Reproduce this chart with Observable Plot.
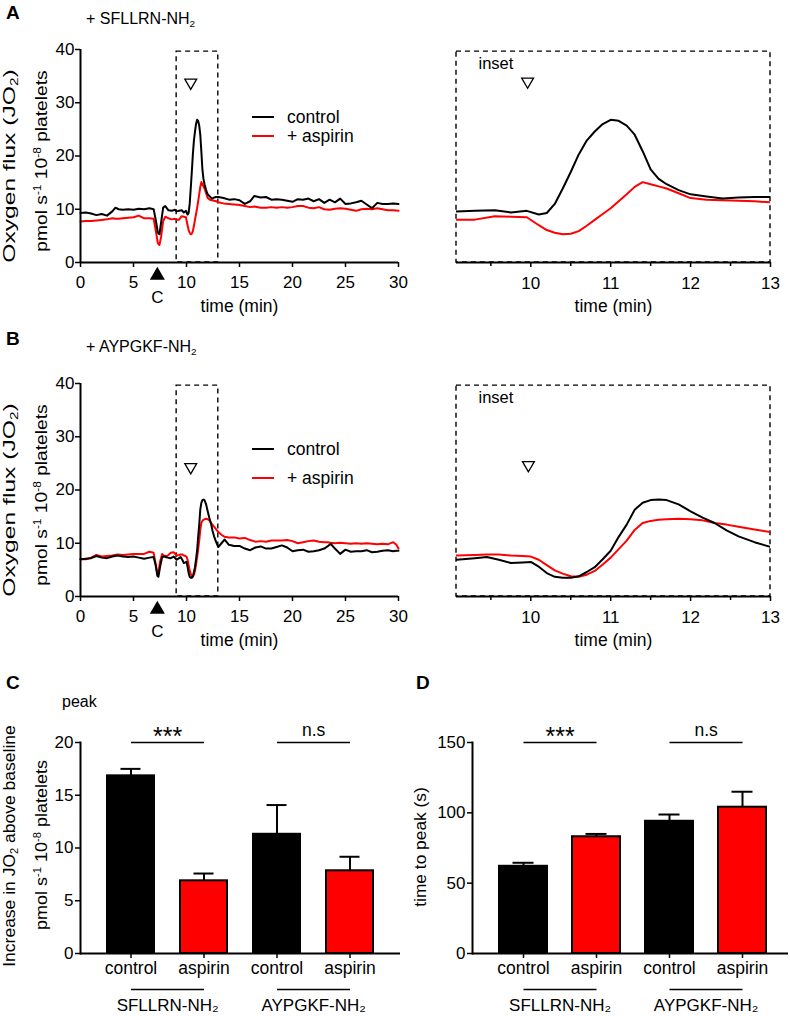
<!DOCTYPE html>
<html>
<head>
<meta charset="utf-8">
<script src="https://cdn.jsdelivr.net/npm/d3@7"></script>
<script src="https://cdn.jsdelivr.net/npm/@observablehq/plot@0.6"></script>
<style>
html,body{margin:0;padding:0;background:#fff;}
#fig{position:relative;width:790px;height:1016px;overflow:hidden;font-family:"Liberation Sans",Arial,Helvetica,sans-serif;color:#000;}
.lbl{position:absolute;white-space:nowrap;line-height:1.15;}
.lbl sub,.lbl sup{font-size:0.62em;line-height:0;}
.lbl sub{vertical-align:-0.28em;}
.lbl sup{vertical-align:0.6em;}
.panel{position:absolute;}
.key{position:absolute;height:2.5px;width:22px;}
</style>
</head>
<body>
<div id="fig"></div>
<script>
const FONT = '"Liberation Sans", Arial, Helvetica, sans-serif';
const RED = "#ff0000";

// ---------- Panel A: + SFLLRN-NH2 (time in min, JO2) ----------
const timeA = [0,0.5,1,1.5,2,2.5,3,3.3,3.6,4,4.5,5,5.5,6,6.5,6.9,7.1,7.3,7.45,7.6,7.8,8,8.3,8.6,8.9,
  9.07,9.3,9.55,9.75,9.95,10.1,10.2,10.3,10.4,10.5,10.6,10.7,10.8,10.9,11,11.1,11.2,11.3,11.4,11.5,11.6,11.7,11.85,
  12,12.2,12.4,12.6,12.8,13,13.5,14,14.5,15,15.5,16,16.4,17,17.5,18,18.5,19,19.5,20,20.5,21,21.5,22,22.5,23,23.5,
  24,24.5,25,25.5,26,26.5,27,27.5,28,28.5,29,29.5,30];
const controlA = [9.3,9.4,9.2,8.9,9.1,8.8,9.6,10.3,10.0,9.9,10.0,9.9,10.1,10.0,10.2,10.0,8.0,5.6,5.3,7.5,10.3,10.6,9.8,9.7,9.9,
  9.6,9.7,9.8,9.4,9.7,9.0,9.3,11.0,13.9,17.0,20.3,22.9,24.6,26.0,26.8,26.6,25.7,24.0,20.9,17.5,15.7,14.7,13.6,
  12.8,12.4,12.0,12.2,12.3,12.3,12.1,11.8,11.9,11.7,11.0,11.5,12.5,12.2,12.3,11.8,11.9,11.8,11.6,11.4,11.9,11.8,12.0,11.5,11.9,11.2,11.8,
  11.3,12.0,11.0,11.1,11.3,11.6,10.9,10.2,11.2,11.0,11.0,11.1,11.0];
const aspirinA = [7.7,7.8,7.8,7.9,8.0,8.1,8.3,8.2,8.2,8.3,8.4,8.5,8.8,8.3,8.3,8.2,6.0,3.6,3.3,4.8,7.8,8.6,8.3,8.1,8.2,
  8.05,8.05,8.7,8.6,8.5,7.0,6.1,5.6,5.3,5.4,5.9,6.9,8.0,9.1,10.2,11.5,12.8,14.2,15.1,14.7,14.3,13.9,13.0,
  12.1,11.8,11.7,11.6,11.5,11.3,11.1,11.0,10.9,10.8,10.6,10.4,10.5,10.3,10.3,10.4,10.3,10.4,10.3,10.4,10.6,10.6,10.3,10.2,10.4,10.0,9.9,
  10.1,10.2,10.1,9.9,9.7,10.0,10.1,10.0,10.2,10.0,9.8,9.8,9.7];

// ---------- Panel B: + AYPGKF-NH2 ----------
const timeB = [0,0.5,1,1.5,2,2.5,3,3.5,4,4.5,5,5.5,6,6.5,6.9,7.1,7.25,7.35,7.5,7.7,7.9,8.2,8.5,8.8,
  9.07,9.3,9.45,9.6,9.75,9.9,10,10.1,10.2,10.3,10.4,10.5,10.6,10.7,10.8,10.9,11,11.1,11.2,11.3,11.4,11.5,11.6,11.7,11.85,
  12,12.15,12.3,12.45,12.6,12.8,13,13.3,13.6,14,14.5,15,15.5,16,16.5,17,17.5,18,18.5,19,19.5,20,20.5,21,21.5,22,22.5,23,23.3,23.6,
  24,24.5,25,25.5,26,26.5,27,27.5,28,28.5,29,29.5,29.8,30];
const controlB = [7.0,7.1,7.2,7.6,7.3,7.2,7.5,7.7,7.5,7.4,7.5,7.3,7.1,7.3,7.4,5.8,3.9,3.7,5.5,7.4,7.5,7.3,7.2,7.5,
  6.9,7.2,7.4,6.9,6.3,6.4,6.5,5.6,4.4,3.7,3.5,3.5,3.8,4.6,5.5,7.0,8.6,11.2,13.5,16.3,17.6,18.1,18.2,18.1,17.3,
  16.0,14.8,13.8,12.4,11.3,10.2,9.3,10.0,10.7,9.7,9.5,9.5,9.0,8.7,9.2,9.4,9.0,9.0,9.3,9.6,9.2,8.5,8.7,8.8,8.4,8.5,8.7,9.0,9.4,9.9,
  9.0,8.0,8.8,8.4,8.5,8.5,8.7,8.3,8.4,8.6,8.7,8.5,8.6,8.6];
const aspirinB = [7.0,7.0,7.3,7.8,7.5,7.6,7.7,7.9,7.8,7.9,8.0,8.0,8.0,8.4,8.2,6.0,4.3,4.5,6.5,8.0,7.6,7.6,8.2,8.3,
  7.7,7.8,7.9,7.9,7.7,7.6,7.5,6.9,5.9,4.9,4.3,3.8,3.7,4.1,4.8,6.0,7.3,8.9,10.5,12.5,13.8,14.2,14.4,14.5,14.6,
  14.5,14.3,13.8,13.5,13.1,12.6,12.1,11.6,11.2,11.1,11.1,10.9,11.0,10.6,10.3,10.4,10.3,10.5,10.5,10.5,10.6,10.4,10.0,10.2,10.4,10.5,10.3,10.2,10.2,10.1,
  10.0,10.1,10.0,9.9,10.0,9.9,10.0,9.9,9.8,9.9,9.8,10.2,9.7,9.0];

// ---------- trace axes & annotations ----------
const xTicksMain = [0,5,10,15,20,25,30];
const yTicksMain = [0,10,20,30,40];
const xTicksInset = [10,11,12,13];
const xMinorInset = [9.5,10.5,11.5,12.5];
const insetWindow = [9.07, 13];
const insetTop = 39.6;
const cAdditionTime = 7.25;
const agonistMarkA = {main: [10.4, 33.8], inset: [9.96, 34]};
const agonistMarkB = {main: [10.4, 24.3], inset: [9.97, 24.7]};

// ---------- Panels C & D ----------
const treatments = ["control","aspirin","control","aspirin"];
const agonistOf = ["SFLLRN-NH₂","SFLLRN-NH₂","AYPGKF-NH₂","AYPGKF-NH₂"];
const agonistGroups = ["SFLLRN-NH₂","AYPGKF-NH₂"];
const peakMean = [16.84, 6.89, 11.3, 7.84];
const peakUpper = [17.5, 7.58, 14.07, 9.17];
const timeToPeakMean = [62, 83, 94, 104];
const timeToPeakUpper = [64.5, 85, 98.8, 115];
const significance = ["***","n.s"];
const yTicksPeak = [0,5,10,15,20];
const yTicksTime = [0,50,100,150];

const fig = document.getElementById("fig");

function addPanel(node, left, top) {
  const d = document.createElement("div");
  d.className = "panel";
  d.style.left = left + "px";
  d.style.top = top + "px";
  d.appendChild(node);
  fig.appendChild(d);
}
function label(html, left, cy, size, extra) {
  const d = document.createElement("div");
  d.className = "lbl";
  d.style.cssText = `left:${left}px;top:${cy}px;font-size:${size}px;transform:translate(0,-50%);${extra || ""}`;
  d.innerHTML = html;
  fig.appendChild(d);
}
function vlabel(html, cx, cy, size, stretch) {
  const d = document.createElement("div");
  d.className = "lbl";
  d.style.cssText = `left:${cx}px;top:${cy}px;font-size:${size}px;transform:translate(-50%,-50%) rotate(-90deg) scaleX(${stretch || 1});`;
  d.innerHTML = html;
  fig.appendChild(d);
}
function legend(yCtrl, yAsp) {
  [[yCtrl, "black", "control"], [yAsp, RED, "+ aspirin"]].forEach(([y, c, t]) => {
    const k = document.createElement("div");
    k.className = "key";
    k.style.cssText = `left:252px;top:${y - 1.25}px;background:${c};`;
    fig.appendChild(k);
    label(t, 287, y, 17.5);
  });
}

const baseStyle = {fontFamily: FONT, fontSize: "17px", background: "transparent", overflow: "visible"};

function rowsOf(times, ctrl, asp) {
  return times.map((t, i) => ({t, control: ctrl[i], aspirin: asp[i]}));
}

function mainTrace(times, ctrl, asp, mark) {
  const rows = rowsOf(times, ctrl, asp);
  return Plot.plot({
    width: 400, height: 312,
    marginLeft: 80, marginRight: 2, marginTop: 49, marginBottom: 50,
    style: baseStyle,
    x: {domain: [0, 30]},
    y: {domain: [0, 40]},
    marks: [
      Plot.rect([insetWindow], {x1: d => d[0], x2: d => d[1], y1: 0, y2: insetTop, fill: "none", stroke: "black", strokeWidth: 1.4, strokeDasharray: "5,4"}),
      Plot.line(rows, {x: "t", y: "aspirin", stroke: RED, strokeWidth: 2}),
      Plot.line(rows, {x: "t", y: "control", stroke: "black", strokeWidth: 2}),
      Plot.ruleY([0], {strokeWidth: 2}),
      Plot.ruleX([0], {strokeWidth: 2}),
      Plot.axisX({ticks: xTicksMain, tickSize: 5, tickPadding: 8, strokeWidth: 1.5, label: null}),
      Plot.axisY({ticks: yTicksMain, tickSize: 5, tickPadding: 1, strokeWidth: 1.5, label: null}),
      Plot.dot([mark], {x: d => d[0], y: d => d[1], symbol: "triangle", rotate: 180, r: 4.4, fill: "white", stroke: "black", strokeWidth: 1.3}),
      Plot.dot([cAdditionTime], {x: d => d, y: 0, dy: 13, symbol: "triangle", r: 5.6, fill: "black", stroke: "none"}),
      Plot.text([cAdditionTime], {x: d => d, y: 0, dy: 35, text: () => "C", fontSize: 17}),
      Plot.text(["time (min)"], {frameAnchor: "bottom", lineAnchor: "middle", dy: 44, fontSize: 17.5})
    ]
  });
}

function insetTrace(times, ctrl, asp, mark) {
  const rows = rowsOf(times, ctrl, asp);
  return Plot.plot({
    width: 390, height: 312,
    marginLeft: 56, marginRight: 20, marginTop: 49, marginBottom: 50,
    style: baseStyle,
    x: {domain: insetWindow},
    y: {domain: [0, 40], axis: null},
    marks: [
      Plot.rect([insetWindow], {x1: d => d[0], x2: d => d[1], y1: 0, y2: insetTop, fill: "none", stroke: "black", strokeWidth: 1.4, strokeDasharray: "5,4"}),
      Plot.line(rows, {x: "t", y: "aspirin", stroke: RED, strokeWidth: 2, clip: true}),
      Plot.line(rows, {x: "t", y: "control", stroke: "black", strokeWidth: 2, clip: true}),
      Plot.ruleY([0], {strokeWidth: 2}),
      Plot.axisX({ticks: xTicksInset, tickSize: 5, tickPadding: 9, tickFormat: d => String(d), strokeWidth: 1.5, label: null}),
      Plot.axisX({ticks: xMinorInset, tickSize: 4, tickFormat: () => "", strokeWidth: 1.5, label: null}),
      Plot.text(["inset"], {frameAnchor: "top-left", lineAnchor: "middle", dx: 22, dy: 14, textAnchor: "start", fontSize: 16.5}),
      Plot.dot([mark], {x: d => d[0], y: d => d[1], symbol: "triangle", rotate: 180, r: 4.4, fill: "white", stroke: "black", strokeWidth: 1.3}),
      Plot.text(["time (min)"], {frameAnchor: "bottom", lineAnchor: "middle", dy: 44, fontSize: 17.5})
    ]
  });
}

function barChart({means, uppers, yMax, yTicks, width, marginLeft, marginRight, insetLeft, insetRight, pIn, pOut}) {
  const rows = treatments.map((tr, i) => ({
    key: agonistOf[i] + "|" + tr, treatment: tr, mean: means[i], upper: uppers[i],
    color: tr === "control" ? "black" : RED
  }));
  const keys = rows.map(d => d.key);
  const pairs = agonistGroups.map((g, j) => ({a: keys[2 * j], b: keys[2 * j + 1], group: g, sig: significance[j]}));
  const half = d3.scaleBand().domain(keys)
    .range([marginLeft + insetLeft, width - marginRight - insetRight])
    .paddingInner(pIn).paddingOuter(pOut).step() / 2;
  const stars = pairs.filter(p => p.sig === "***");
  const plain = pairs.filter(p => p.sig !== "***");
  return Plot.plot({
    width, height: 316,
    marginLeft, marginRight, marginTop: 42, marginBottom: 63,
    style: baseStyle,
    x: {domain: keys, paddingInner: pIn, paddingOuter: pOut, insetLeft, insetRight},
    y: {domain: [0, yMax]},
    color: {type: "identity"},
    marks: [
      Plot.barY(rows, {x: "key", y: "mean", fill: "color", stroke: "black", strokeWidth: 2}),
      Plot.ruleX(rows, {x: "key", y1: "mean", y2: "upper", strokeWidth: 2}),
      Plot.tickY(rows, {x: "key", y: "upper", strokeWidth: 2, insetLeft: 13.5, insetRight: 13.5}),
      Plot.ruleY([0], {strokeWidth: 2}),
      Plot.frame({anchor: "left", strokeWidth: 2}),
      Plot.axisY({ticks: yTicks, tickSize: 5, tickPadding: 2, strokeWidth: 1.5, label: null}),
      Plot.axisX({tickSize: 5, tickPadding: 3, tickFormat: d => d.split("|")[1], fontSize: 17.5, strokeWidth: 1.5, label: null}),
      Plot.link(pairs, {x1: "a", x2: "b", y1: yMax, y2: yMax, strokeWidth: 1.5}),
      Plot.text(stars, {x: "a", y: yMax, dx: half, dy: -6, text: "sig", fontSize: 25}),
      Plot.text(plain, {x: "a", y: yMax, dx: half, dy: -12, text: "sig", fontSize: 17.5}),
      Plot.link(pairs, {x1: "a", x2: "b", y1: 0, y2: 0, dy: 36, strokeWidth: 1.5}),
      Plot.text(pairs, {x: "a", y: 0, dx: half, dy: 52, text: "group", fontSize: 17})
    ]
  });
}

// ----- assemble -----
addPanel(mainTrace(timeA, controlA, aspirinA, agonistMarkA.main), 0, 0);
addPanel(insetTrace(timeA, controlA, aspirinA, agonistMarkA.inset), 400, 0);
addPanel(mainTrace(timeB, controlB, aspirinB, agonistMarkB.main), 0, 334);
addPanel(insetTrace(timeB, controlB, aspirinB, agonistMarkB.inset), 400, 334);
addPanel(barChart({means: peakMean, uppers: peakUpper, yMax: 20, yTicks: yTicksPeak,
  width: 400, marginLeft: 80, marginRight: 0, insetLeft: 13.5, insetRight: 13.3, pIn: 0.36, pOut: 0.18}), 0, 700);
addPanel(barChart({means: timeToPeakMean, uppers: timeToPeakUpper, yMax: 150, yTicks: yTicksTime,
  width: 390, marginLeft: 72, marginRight: 2, insetLeft: 13.9, insetRight: 9.4, pIn: 0.344, pOut: 0.172}), 400, 700);

legend(117, 136);
legend(449, 478);

label("A", 6, 13, 19, "font-weight:bold;");
label("+ SFLLRN-NH<sub>2</sub>", 86, 19, 16);
label("B", 6, 339, 19, "font-weight:bold;");
label("+ AYPGKF-NH<sub>2</sub>", 86, 347, 16);
label("C", 6, 683, 19, "font-weight:bold;");
label("peak", 62, 702, 16);
label("D", 416, 683, 19, "font-weight:bold;");

vlabel("Oxygen flux (JO<sub>2</sub>)", 10, 166, 17, 1.45);
vlabel("pmol s<sup>-1</sup> 10<sup>-8</sup> platelets", 42, 161, 17, 1.13);
vlabel("Oxygen flux (JO<sub>2</sub>)", 10, 500, 17, 1.45);
vlabel("pmol s<sup>-1</sup> 10<sup>-8</sup> platelets", 42, 495, 17, 1.13);
vlabel("Increase in JO<sub>2</sub> above baseline", 10, 846, 17, 1.03);
vlabel("pmol s<sup>-1</sup> 10<sup>-8</sup> platelets", 42, 845, 17, 1.06);
vlabel("time to peak (s)", 421, 847, 17, 1.02);
</script>
</body>
</html>
